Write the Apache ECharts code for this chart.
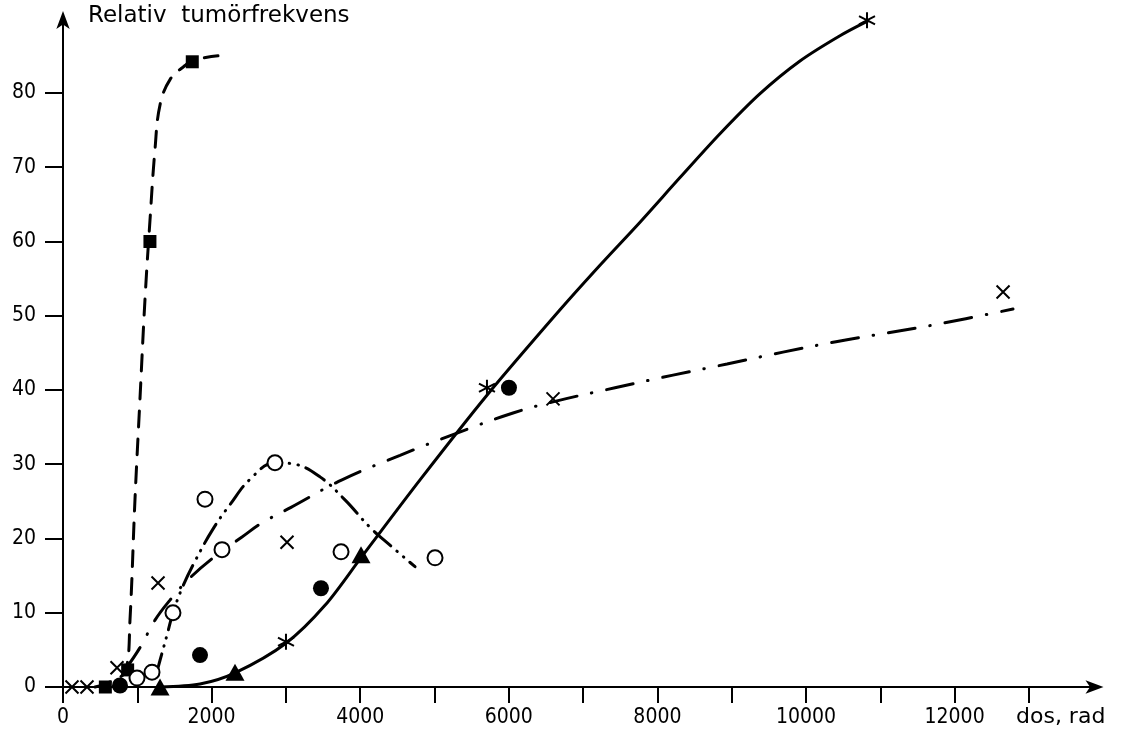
<!DOCTYPE html>
<html>
<head>
<meta charset="utf-8">
<script src="https://cdn.jsdelivr.net/npm/echarts@6/dist/echarts.min.js"></script>
<style>html,body{margin:0;padding:0;background:#fff}#c{width:1121px;height:735px}</style>
</head>
<body>
<div id="c"></div>
<script>
// ---- data (dose in rad, relative tumour frequency) ----
const squarePoints = [[570,0],[870,2.3],[1170,60],[1740,84.2]];
const squareCurve = [[431,0],[633,0.7],[848,2.3],[902,9.1],[969,25.3],[1036,38.8],[1104,52.3],[1171,62.9],[1238,72.4],[1306,78.4],[1440,81.8],[1642,83.7],[1750,84.4],[2086,85.0]];

const openCirclePoints = [[996,1.2],[1198,2.0],[1480,10.0],[1911,25.3],[2140,18.5],[2853,30.2],[3742,18.2],[5007,17.4]];
const openCircleCurve = [[1252,1.6],[1306,3.6],[1400,7.0],[1480,10.0],[1615,13.6],[1790,17.2],[2020,21.3],[2250,24.6],[2520,28.0],[2853,30.2],[3122,30.0],[3459,28.3],[3795,25.2],[4132,21.5],[4401,19.1],[4738,16.2]];

const crossPoints = [[121,0],[323,0],[727,2.6],[1279,14.0],[3015,19.5],[6595,38.8],[12652,53.2]];
const crossCurve = [[834,2.3],[1036,5.3],[1238,9.0],[1440,11.7],[1709,14.7],[2046,17.6],[2409,20.2],[2678,22.1],[3069,24.2],[3755,27.9],[4536,31.2],[5303,34.2],[6057,36.9],[6595,38.4],[7429,40.3],[8210,42.0],[8937,43.5],[9690,45.1],[10404,46.5],[11104,47.7],[11844,49.0],[12786,50.9]];

const filledCirclePoints = [[767,0.2],[1844,4.3],[3472,13.3],[6002,40.3]];

const trianglePoints = [[1306,0],[2315,2.0],[4011,17.8]];
const asteriskPoints = [[3001,6.1],[5706,40.3],[10821,89.8]];
const solidCurve = [[1306,0],[1844,0.4],[2315,1.9],[3001,5.9],[3526,11.0],[4024,17.6],[4805,27.9],[5706,39.3],[6689,50.8],[7227,56.8],[7766,62.6],[8304,68.6],[8842,74.5],[9381,79.9],[9919,84.3],[10457,87.7],[10834,89.7]];

// ---- tick labels ----
const xTickValues = [0,1000,2000,3000,4000,5000,6000,7000,8000,9000,10000,11000,12000,13000];
const xLabelValues = [0,2000,4000,6000,8000,10000,12000];
const yTickValues = [0,10,20,30,40,50,60,70,80];
const yTitle = 'Relativ  tumörfrekvens';
const xTitle = 'dos, rad';

const FONT = '"DejaVu Sans Condensed", "DejaVu Sans"';
const chart = echarts.init(document.getElementById('c'), null, {renderer: 'canvas'});

const crossPath = 'path://M0,0L10,10M10,0L0,10';
const asteriskPath = 'path://M5,0L5,10M0.9,2.4L9.1,7.6M0.9,7.6L9.1,2.4';

function curve(data, dash, smooth) {
  return {
    type: 'line', data: data, smooth: smooth || 0.4,
    showSymbol: false, symbol: 'none', clip: false, z: 2, silent: true,
    lineStyle: {color: '#000', width: 3, type: dash, cap: 'round', opacity: 1}
  };
}
function marks(data, symbol, size, filled, z) {
  return {
    type: 'scatter', data: data, symbol: symbol, symbolSize: size, clip: false, z: z || 5, silent: true,
    itemStyle: filled
      ? {color: '#000', borderWidth: 0, opacity: 1}
      : {color: symbol.indexOf('path') === 0 ? 'rgba(0,0,0,0)' : '#fff', borderColor: '#000', borderWidth: 2, opacity: 1}
  };
}

chart.setOption({
  animation: false,
  backgroundColor: '#fff',
  grid: {left: 63, right: 21.5, top: 15, bottom: 48},
  xAxis: {
    type: 'value', min: 0, max: 13950,
    axisLine: {show: true, onZero: false, lineStyle: {color: '#000', width: 2}, symbol: ['none', 'arrow'], symbolSize: [10, 18], symbolOffset: [0, 4]},
    axisTick: {show: true, length: 16, lineStyle: {color: '#000', width: 2}, customValues: xTickValues},
    axisLabel: {color: '#000', fontFamily: FONT, fontSize: 21, margin: 20, customValues: xLabelValues, formatter: v => String(v)},
    splitLine: {show: false}
  },
  yAxis: {
    type: 'value', min: 0, max: 90.5,
    axisLine: {show: true, onZero: false, lineStyle: {color: '#000', width: 2}, symbol: ['none', 'arrow'], symbolSize: [10, 18], symbolOffset: [0, 4]},
    axisTick: {show: true, length: 18, lineStyle: {color: '#000', width: 2}, customValues: yTickValues},
    axisLabel: {color: '#000', fontFamily: FONT, fontSize: 21, margin: 27, customValues: yTickValues, formatter: v => String(v)},
    splitLine: {show: false}
  },
  graphic: [
    {type: 'text', left: 88, top: 5, style: {text: yTitle, fill: '#000', fontFamily: '"DejaVu Sans"', fontSize: 23}},
    {type: 'text', left: 1016, top: 706, style: {text: xTitle, fill: '#000', fontFamily: '"DejaVu Sans"', fontSize: 22}}
  ],
  series: [
    curve(squareCurve, [16, 12]),
    curve(openCircleCurve, [22, 8, 0.5, 8, 0.5, 8]),
    curve(crossCurve, [27, 15, 0.5, 15]),
    curve(solidCurve, 'solid', 0.3),
    marks(squarePoints, 'rect', 13, true),
    marks(openCirclePoints, 'circle', 15, false),
    marks(crossPoints, crossPath, 13, false),
    marks(filledCirclePoints, 'circle', 16, true),
    marks(trianglePoints, 'triangle', [19, 17], true),
    marks(asteriskPoints, asteriskPath, 16, false)
  ]
});
</script>
</body>
</html>
